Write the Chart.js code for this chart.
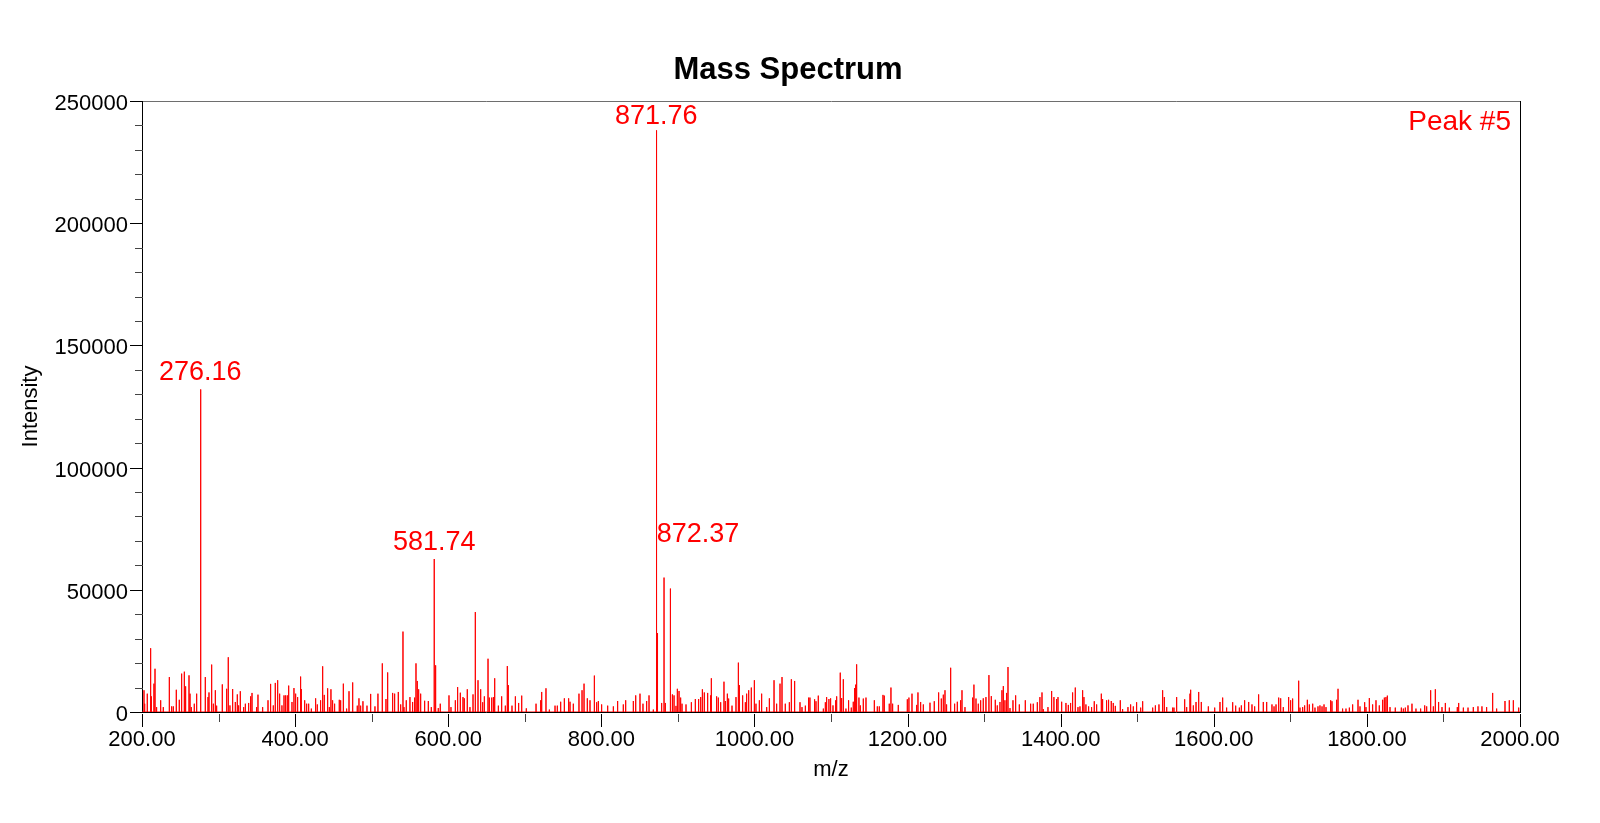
<!DOCTYPE html>
<html>
<head>
<meta charset="utf-8">
<title>Mass Spectrum</title>
<script src="https://cdn.jsdelivr.net/npm/chart.js@4.4.0/dist/chart.umd.min.js"></script>
<style>
  html, body { margin: 0; padding: 0; background: #fff; }
  #wrap { width: 1600px; height: 823px; }
</style>
</head>
<body>
<div id="wrap"><canvas id="specChart" width="1600" height="823"></canvas></div>
<script>
// --- Spectrum data (m/z, intensity) ---
const peakMz = [
  202.6, 203.5, 206.9, 211.3, 212.2, 215.6, 217.0, 219.1, 224.4, 227.8,
  235.7, 238.7, 240.9, 244.8, 248.7, 251.8, 255.3, 257.0, 261.4, 262.7,
  264.4, 268.3, 271.4, 276.16, 277.0, 282.7, 286.2, 287.5, 291.0, 293.2,
  295.8, 297.5, 304.9, 310.6, 312.7, 314.9, 318.4, 321.9, 324.5, 326.2,
  328.4, 332.8, 335.0, 339.3, 341.9, 343.7, 349.7, 351.5, 357.6, 364.6,
  368.0, 371.5, 374.1, 377.2, 379.8, 382.8, 385.5, 387.6, 389.8, 391.6,
  395.9, 398.5, 400.7, 403.3, 407.2, 408.1, 412.5, 415.1, 417.7, 421.2,
  426.8, 429.0, 433.3, 436.0, 438.1, 442.5, 444.7, 446.8, 449.0, 451.6,
  457.7, 459.5, 463.0, 467.3, 470.4, 475.2, 481.2, 483.4, 485.6, 488.6,
  493.9, 498.7, 504.3, 508.2, 513.9, 518.7, 520.9, 527.4, 530.0, 534.8,
  537.9, 540.9, 542.2, 545.2, 550.0, 553.5, 556.1, 557.9, 559.6, 561.4,
  564.0, 569.2, 574.0, 577.9, 581.74, 582.9, 584.0, 587.0, 589.6, 601.0,
  603.6, 609.3, 612.3, 615.8, 619.3, 621.0, 624.9, 628.4, 632.4, 635.4,
  638.9,
  642.4, 645.0, 647.2, 652.0, 653.7, 656.8, 659.0, 660.7, 665.5, 669.8,
  674.6, 677.2, 678.5, 683.3, 687.7, 692.0, 696.0, 702.0, 714.7, 720.8,
  722.1, 727.7, 732.1, 739.5, 742.5, 746.9, 751.7, 757.3, 759.1, 763.4,
  770.8, 774.8, 777.4, 781.7, 785.2, 790.9, 793.9, 796.1, 800.4, 808.3,
  815.7, 821.3, 828.7, 831.8, 841.8, 844.9, 850.5, 854.4, 859.2, 862.3,
  867.9, 871.76, 872.37, 873.4, 878.8, 881.9, 883.6, 889.7, 890.6, 892.8,
  895.0, 897.5, 899.3, 901.5, 903.6, 905.4, 910.6, 917.6, 922.8, 927.1,
  929.8, 932.0, 934.5, 938.9, 942.8, 943.7, 950.6, 952.8, 955.9, 960.2,
  962.0, 964.6, 966.3, 970.7, 975.9, 979.0, 980.3, 984.6, 988.1, 989.8,
  992.5, 995.9, 999.9, 1002.0, 1006.4, 1009.4, 1016.0, 1019.5, 1025.6, 1029.0,
  1033.4, 1036.0, 1040.3, 1045.6, 1048.2, 1052.5, 1059.5, 1062.1, 1066.5, 1070.8,
  1072.5, 1078.6, 1080.4, 1083.4, 1090.0, 1092.6, 1094.3, 1097.3, 1099.5, 1102.6,
  1106.1, 1107.4, 1112.1, 1113.9, 1116.1, 1119.5, 1123.0, 1126.5, 1129.1, 1130.9,
  1132.2, 1133.5, 1136.5, 1138.3, 1142.2, 1145.7, 1156.6, 1160.5, 1163.1, 1167.9,
  1169.6, 1176.1, 1178.3, 1180.5, 1187.9, 1199.7, 1201.8, 1205.8, 1211.9, 1213.6,
  1217.1, 1220.6, 1229.3, 1234.9, 1240.6, 1244.1, 1246.7, 1248.9, 1251.0, 1256.3,
  1261.5, 1265.0, 1269.3, 1271.1, 1275.0, 1285.0, 1286.7, 1289.4, 1292.4, 1295.5,
  1298.9, 1302.4, 1306.3, 1309.4, 1314.6, 1317.2, 1320.7, 1323.3, 1325.1, 1327.2,
  1329.4, 1331.2, 1333.8, 1337.7, 1341.2, 1346.0, 1353.8, 1360.8, 1364.2, 1369.5,
  1372.9, 1375.6, 1377.3, 1383.4, 1388.2, 1391.2, 1394.7, 1396.5, 1401.3, 1406.9,
  1410.0, 1413.0, 1415.6, 1419.1, 1422.6, 1425.2, 1428.7, 1430.4, 1433.0, 1436.5,
  1440.4, 1443.9, 1447.0, 1453.1, 1454.8, 1460.0, 1462.6, 1466.1, 1468.7, 1471.4,
  1477.9, 1480.9, 1487.9, 1491.4, 1494.9, 1499.2,
  1504.5, 1507.1, 1520.2, 1523.7, 1528.4, 1533.2, 1535.4, 1538.5, 1546.3, 1548.0,
  1551.5, 1562.0, 1564.6, 1568.9, 1569.8, 1573.3, 1576.8, 1580.3, 1583.7, 1592.9,
  1601.2, 1608.1, 1611.6, 1616.8, 1624.7, 1628.6, 1633.4, 1636.0, 1640.3, 1645.6,
  1649.9, 1653.4, 1658.6, 1664.7, 1669.1, 1676.0, 1678.7, 1681.3, 1684.8, 1687.4,
  1690.8, 1697.8, 1700.4, 1703.0, 1710.9, 1712.6, 1716.1, 1718.7, 1722.2, 1724.8,
  1729.2, 1732.2, 1736.1, 1738.7, 1741.4, 1744.0, 1746.6, 1752.7, 1754.4, 1760.5,
  1762.3, 1768.3, 1772.7, 1777.1, 1781.4, 1788.4, 1791.0, 1797.1, 1798.8, 1803.2,
  1807.5, 1811.9, 1816.2, 1820.6, 1822.8, 1824.9, 1826.7, 1830.2, 1837.1, 1845.0,
  1847.6, 1850.2, 1853.7, 1858.9, 1864.1, 1870.2, 1875.5, 1878.1, 1883.3, 1886.8,
  1889.4, 1893.7, 1898.1, 1902.5, 1907.7, 1918.1, 1919.9, 1926.0, 1932.1,
  1939.0, 1945.1, 1950.3, 1956.4, 1964.3, 1969.5, 1980.4, 1986.0, 1991.3, 1998.3
];

const peakIntensity = [
  8900, 3400, 7500, 26100, 6400, 11600, 17700, 2000, 4800, 2000,
  14300, 2300, 2300, 9100, 5000, 15700, 16500, 10500, 15000, 7500,
  2000, 3400, 7500, 132000, 2000, 14300, 6100, 8000, 19400, 3400,
  8900, 2600, 11300, 9500, 22400, 2700, 9400, 4100, 7200, 2700,
  8500, 2000, 3400, 3700, 6400, 7800, 2000, 7100, 2000, 4800,
  11500, 2700, 11900, 13000, 7500, 2700, 6800, 6800, 6800, 10800,
  4100, 9800, 7500, 6100, 14500, 9400, 4800, 3400, 3400, 1400,
  5600, 3100, 4800, 18700, 7000, 9700, 2000, 9300, 4800, 3400,
  5000, 4800, 11600, 1400, 8500, 12100, 2600, 5600, 2600, 4400,
  2600, 7400, 2300, 7500, 19900, 5300, 16200, 7800, 7500, 8200,
  3100, 32900, 2000, 4800, 6100, 4100, 5900, 19900, 12700, 9300,
  7500, 4600, 4500, 2000, 62600, 19100, 4400, 1600, 3400, 6800,
  2000, 4800, 10200, 7900, 6100, 5600, 9300, 2000, 7200, 40900,
  13000,
  9300, 4000, 6400, 21800, 5900, 5900, 6100, 13800, 2600, 6400,
  2600, 18800, 11000, 2600, 6400, 3700, 6700, 1500, 3400, 4800,
  8200, 9700, 1000, 2600, 2600, 4200, 5600, 5600, 4200, 3400,
  7500, 8900, 11600, 5600, 4800, 14900, 4000, 4500, 3100, 2600,
  2300, 4500, 3100, 4800, 4500, 6800, 7500, 3400, 4500, 6800,
  1000, 238000, 65900, 32300, 3700, 55000, 3700, 34800, 50500, 7200,
  6800, 2500, 9500, 8600, 5900, 3400, 3100, 4000, 5300, 5300,
  6100, 9300, 8000, 7800, 6800, 13800, 6400, 5900, 4000, 12400,
  4500, 7500, 5500, 2600, 6100, 20200, 11000, 6800, 4000, 7500,
  8900, 10000, 13000, 3400, 4800, 7500, 2000, 5600, 13000, 3400,
  11600, 14300, 3400, 4000, 13400, 12700, 4000, 2000, 2600, 5900,
  5900, 5200, 4400, 6700, 1400, 4000, 6100, 5300, 5600, 2700,
  4800, 6400, 16100, 5700, 13400, 1400, 4800, 1800, 4200, 9800,
  11200, 19500, 5900, 2700, 5500, 5900, 4800, 2300, 2300, 7000,
  6700, 3400, 10000, 3400, 2900, 5200, 5900, 7500, 2900, 8000,
  4100, 3100, 3800, 4400, 8000, 5500, 7100, 8900, 3100, 18100,
  3400, 4200, 4800, 8900, 2000, 5900, 11200, 5500, 3400, 4800,
  5600, 6100, 15100, 6500, 5000, 2700, 4100, 8900, 10600, 4800,
  7800, 18400, 1600, 4800, 6800, 3100, 4800, 3400, 3400, 4000,
  6100, 8000, 1200, 2000, 8600, 6100, 5300, 6100, 4200, 3700,
  2900, 3700, 8000, 10000, 2000, 2300, 8900, 6100, 3100, 2300,
  2000, 4400, 3100, 7500, 5300, 4800, 5000, 4500, 3700, 2500,
  4800, 1200, 2000, 3100, 2300, 4000,
  1800, 4400, 1800, 2700, 3100, 8900, 6100, 2000, 1800, 1800,
  6100, 5200, 2000, 7500, 9100, 2700, 4100, 8200, 4100, 2300,
  1800, 4100, 5900, 1800, 4000, 2600, 1800, 2700, 4800, 4100,
  3100, 2300, 7200, 4100, 4100, 3100, 2300, 3100, 5900, 5600,
  2000, 6100, 4800, 5500, 12800, 1800, 2000, 2700, 5000, 3100,
  3400, 1800, 2300, 2700, 2300, 3100, 2000, 4800, 4400, 5000,
  9500, 1400, 1400, 1800, 3100, 5000, 2300, 4000, 2000, 5700,
  3100, 4800, 2700, 5000, 5900, 6100, 6700, 2000, 1800, 1800,
  1400, 1800, 2700, 3400, 1400, 1400, 2700, 2300, 8900, 2300,
  9300, 4100, 2000, 3700, 1800, 2000, 3700, 1800, 1800,
  2000, 2300, 2300, 2000, 7800, 1400, 4500, 4800, 4800, 1800
];

// peaks that carry an m/z label
const labelledMz = [276.16, 581.74, 871.76, 872.37];
const peakTag = "Peak #5";

const xMin = 200, xMax = 2000, xStep = 200, xMinorStep = 100;
const yMin = 0, yMax = 250000, yStep = 50000, yMinorStep = 10000;

const FONT = '"Liberation Sans", Arial, sans-serif';
Chart.defaults.font.family = FONT;
Chart.defaults.color = "#000";

// --- stick spectrum: each peak goes baseline -> top -> baseline ---
const order = peakMz.map((m, i) => i).sort((a, b) => peakMz[a] - peakMz[b]);
const points = [{ x: xMin, y: 0 }];
order.forEach(i => {
    points.push({ x: peakMz[i], y: 0 });
    points.push({ x: peakMz[i], y: peakIntensity[i] });
    points.push({ x: peakMz[i], y: 0 });
});
points.push({ x: xMax, y: 0 });

// --- frame, minor ticks, title and peak labels ---
const decorations = {
    id: "decorations",
    afterDraw(chart) {
        const { ctx, chartArea: { left, right, top, bottom }, scales: { x, y } } = chart;
        ctx.save();
        ctx.lineWidth = 1;

        // top and right edge of the box
        ctx.strokeStyle = "#6e6e6e";
        ctx.beginPath();
        ctx.moveTo(left, top + 0.5);
        ctx.lineTo(right + 1, top + 0.5);
        ctx.stroke();
        ctx.strokeStyle = "#000";
        ctx.beginPath();
        ctx.moveTo(right + 0.5, top);
        ctx.lineTo(right + 0.5, bottom + 1);
        ctx.stroke();

        // y ticks (major + minor), pointing out
        for (let v = yMin; v <= yMax; v += yMinorStep) {
            const py = Math.round(y.getPixelForValue(v)) + 0.5;
            const len = v % yStep === 0 ? 12 : 7;
            ctx.strokeStyle = v % yStep === 0 ? "#000" : "#444";
            ctx.beginPath();
            ctx.moveTo(left - len, py);
            ctx.lineTo(left + 1, py);
            ctx.stroke();
        }
        // x ticks
        for (let v = xMin; v <= xMax; v += xMinorStep) {
            const px = Math.round(x.getPixelForValue(v)) + 0.5;
            const len = v % xStep === 0 ? 15 : 10;
            ctx.strokeStyle = v % xStep === 0 ? "#000" : "#444";
            ctx.beginPath();
            ctx.moveTo(px, bottom + 2);
            ctx.lineTo(px, bottom + len);
            ctx.stroke();
        }

        // chart title
        ctx.fillStyle = "#000";
        ctx.font = "bold 31px " + FONT;
        ctx.textAlign = "center";
        ctx.textBaseline = "alphabetic";
        ctx.fillText("Mass Spectrum", 788, 79);

        // peak tag, top right
        ctx.fillStyle = "#ff0000";
        ctx.font = "28px " + FONT;
        ctx.textAlign = "right";
        ctx.fillText(peakTag, right - 9, 130);

        // m/z labels over the marked peaks
        ctx.font = "27px " + FONT;
        labelledMz.forEach(m => {
            const h = peakIntensity[peakMz.indexOf(m)];
            const px = x.getPixelForValue(m);
            const py = y.getPixelForValue(h);
            // a taller labelled neighbour pushes this label to the right side
            const crowded = labelledMz.some(o => o !== m && Math.abs(o - m) < 2 &&
                peakIntensity[peakMz.indexOf(o)] > h);
            ctx.textAlign = crowded ? "left" : "center";
            ctx.fillText(m.toFixed(2), px, Math.max(py - 9, top + 23));
        });
        ctx.restore();
    }
};

const ctx = document.getElementById("specChart").getContext("2d");
const specChart = new Chart(ctx, {
    type: "line",
    data: {
        datasets: [{
            label: "Intensity",
            data: points,
            borderColor: "#ff0000",
            borderWidth: 1,
            borderJoinStyle: "bevel",
            pointRadius: 0,
            tension: 0,
            fill: false
        }]
    },
    options: {
        responsive: false,
        animation: false,
        devicePixelRatio: 1,
        layout: { padding: { top: 101, right: 80, left: 0, bottom: 0 } },
        plugins: {
            legend: { display: false },
            tooltip: { enabled: false },
            title: { display: false }
        },
        scales: {
            x: {
                type: "linear",
                min: xMin,
                max: xMax,
                grid: { display: false, drawTicks: false },
                border: { display: true, color: "#000", width: 1 },
                ticks: {
                    stepSize: xStep,
                    padding: 15,
                    maxRotation: 0,
                    autoSkip: false,
                    font: { size: 22 },
                    callback: v => v.toFixed(2)
                },
                title: { display: true, text: "m/z", font: { size: 22 }, padding: { top: 0, bottom: 40 } },
                afterFit: s => { s.height = 111; }
            },
            y: {
                min: yMin,
                max: yMax,
                grid: { display: false, drawTicks: false },
                border: { display: true, color: "#000", width: 1 },
                ticks: {
                    stepSize: yStep,
                    padding: 14,
                    labelOffset: 3,
                    font: { size: 22 },
                    callback: v => String(v)
                },
                title: { display: true, text: "Intensity", font: { size: 22 }, padding: { top: 18, bottom: 0 } },
                afterFit: s => { s.width = 142; }
            }
        }
    },
    plugins: [decorations]
});
</script>
</body>
</html>
